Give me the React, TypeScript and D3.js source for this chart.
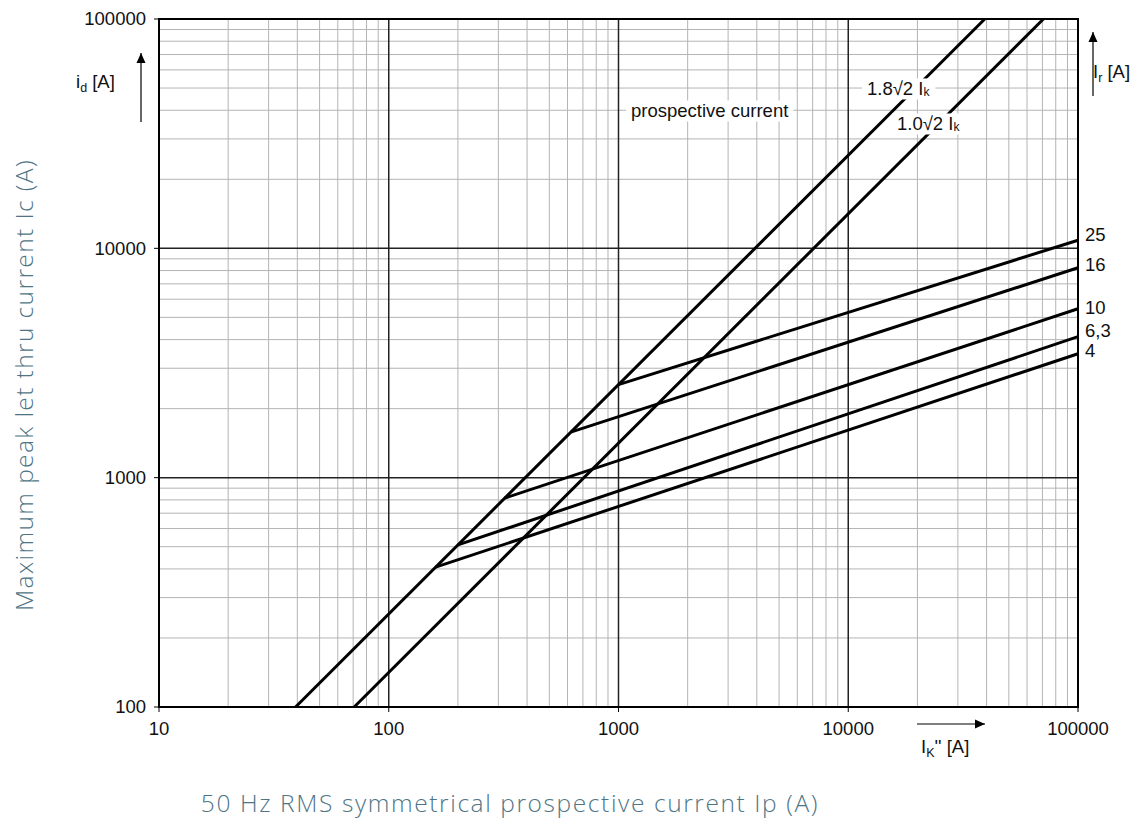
import React, { useEffect, useRef } from 'react';
import * as d3 from 'd3';

// axis ranges (log scales)
const X_DOMAIN: [number, number] = [10, 100000];
const Y_DOMAIN: [number, number] = [100, 100000];
const X_TICKS = [10, 100, 1000, 10000, 100000];
const Y_TICKS = [100, 1000, 10000, 100000];

// prospective current lines
const PEAK_18 = [[39.3, 100], [39280, 100000]];
const PEAK_10 = [[70.7, 100], [70710, 100000]];

// limiter let-through lines per rated current Ir
const IR_LABELS = ['25', '16', '10', '6,3', '4'];
const IR_START = [[1000, 2546], [620, 1580], [320, 815], [200, 509], [160, 407]];
const IR_END = [[100000, 10850], [100000, 8230], [100000, 5450], [100000, 4120], [100000, 3470]];

const TITLE_COLOR = '#4f7585';
const FONT = '"Liberation Sans", Arial, sans-serif';
const FS = 18.5;

const App: React.FC = () => {
  const svgRef = useRef<SVGSVGElement>(null);

  useEffect(() => {
    document.body.style.margin = '0';
    if (!svgRef.current) return;
    const width = 1138;
    const height = 821;
    const left = 159, right = 1078, top = 19, bottom = 707;

    const svg = d3.select(svgRef.current);
    svg.selectAll('*').remove();
    svg.attr('width', width).attr('height', height);

    const x = d3.scaleLog().domain(X_DOMAIN).range([left, right]);
    const y = d3.scaleLog().domain(Y_DOMAIN).range([bottom, top]);

    const minorX: number[] = [];
    for (let d = 10; d < X_DOMAIN[1]; d *= 10) for (let k = 2; k <= 9; k++) minorX.push(d * k);
    const minorY: number[] = [];
    for (let d = 100; d < Y_DOMAIN[1]; d *= 10) for (let k = 2; k <= 9; k++) minorY.push(d * k);

    const grid = svg.append('g');
    grid.selectAll('line.mx').data(minorX).join('line')
      .attr('x1', (d) => x(d)).attr('x2', (d) => x(d))
      .attr('y1', top).attr('y2', bottom)
      .attr('stroke', '#b4b4b4').attr('stroke-width', 1);
    grid.selectAll('line.my').data(minorY).join('line')
      .attr('y1', (d) => y(d)).attr('y2', (d) => y(d))
      .attr('x1', left).attr('x2', right)
      .attr('stroke', '#b4b4b4').attr('stroke-width', 1);
    grid.selectAll('line.Mx').data(X_TICKS.slice(1, -1)).join('line')
      .attr('x1', (d) => x(d)).attr('x2', (d) => x(d))
      .attr('y1', top).attr('y2', bottom)
      .attr('stroke', '#222').attr('stroke-width', 1.5);
    grid.selectAll('line.My').data(Y_TICKS.slice(1, -1)).join('line')
      .attr('y1', (d) => y(d)).attr('y2', (d) => y(d))
      .attr('x1', left).attr('x2', right)
      .attr('stroke', '#222').attr('stroke-width', 1.5);

    // frame
    svg.append('rect')
      .attr('x', left).attr('y', top)
      .attr('width', right - left).attr('height', bottom - top)
      .attr('fill', 'none').attr('stroke', '#000').attr('stroke-width', 2);

    // ticks + labels
    const ax = svg.append('g').attr('font-family', FONT).attr('font-size', FS).attr('fill', '#111');
    Y_TICKS.forEach((t) => {
      ax.append('line').attr('x1', left - 5).attr('x2', left).attr('y1', y(t)).attr('y2', y(t))
        .attr('stroke', '#000').attr('stroke-width', 1);
      ax.append('text').attr('x', left - 13).attr('y', y(t)).attr('dy', '0.35em')
        .attr('text-anchor', 'end').text(String(t));
    });
    X_TICKS.forEach((t) => {
      ax.append('line').attr('x1', x(t)).attr('x2', x(t)).attr('y1', bottom).attr('y2', bottom + 5)
        .attr('stroke', '#000').attr('stroke-width', 1);
      ax.append('text').attr('x', x(t)).attr('y', bottom + 22)
        .attr('dy', '0.35em').attr('text-anchor', 'middle').text(String(t));
    });

    const line = d3.line<number[]>().x((d) => x(d[0])).y((d) => y(d[1]));
    const curves = svg.append('g').attr('fill', 'none').attr('stroke', '#000')
      .attr('stroke-width', 3).attr('stroke-linecap', 'butt');

    // labels with white boxes behind them (they cut the grid)
    const labels = svg.append('g').attr('font-family', FONT).attr('font-size', FS).attr('fill', '#111');
    const boxed = (px: number, py: number, parts: [string, boolean][]) => {
      const gg = labels.append('g');
      const txt = gg.append('text').attr('x', px).attr('y', py).attr('dy', '0.35em');
      parts.forEach(([s, sub]) => {
        const ts = txt.append('tspan').text(s);
        if (sub) ts.attr('font-size', 12).attr('dy', 1);
      });
      const bb = (txt.node() as SVGTextElement).getBBox();
      gg.insert('rect', 'text').attr('x', bb.x - 5).attr('y', bb.y)
        .attr('width', bb.width + 10).attr('height', bb.height).attr('fill', '#fff');
    };
    boxed(631, 111, [['prospective current', false]]);
    boxed(867, 89, [['1.8√2 I', false], ['k', true]]);
    boxed(897, 124, [['1.0√2 I', false], ['k', true]]);

    curves.append('path').attr('d', line(PEAK_18));
    curves.append('path').attr('d', line(PEAK_10));
    IR_LABELS.forEach((lab, i) => {
      curves.append('path').attr('d', line([IR_START[i], IR_END[i]]));
    });

    const labelDy = [-6, -3, -1, -6, -3];
    IR_LABELS.forEach((lab, i) => {
      labels.append('text').attr('x', right + 7).attr('y', y(IR_END[i][1]) + labelDy[i])
        .attr('dy', '0.35em').attr('font-size', 18.5).text(lab);
    });

    // unit annotations with arrows
    const ann = svg.append('g').attr('font-family', FONT).attr('font-size', FS).attr('fill', '#111');
    const arrow = (x1: number, y1: number, x2: number, y2: number) => {
      ann.append('line').attr('x1', x1).attr('y1', y1).attr('x2', x2).attr('y2', y2)
        .attr('stroke', '#000').attr('stroke-width', 1.2);
      const ang = Math.atan2(y2 - y1, x2 - x1);
      const L = 10, W = 4.5;
      const bx = x2 - L * Math.cos(ang), by = y2 - L * Math.sin(ang);
      const pts = [
        [x2, y2],
        [bx + W * Math.sin(ang), by - W * Math.cos(ang)],
        [bx - W * Math.sin(ang), by + W * Math.cos(ang)],
      ];
      ann.append('polygon').attr('points', pts.map((p) => p.join(',')).join(' ')).attr('fill', '#000');
    };
    const sub = (px: number, py: number, main: string, s: string, rest: string) => {
      const t = ann.append('text').attr('x', px).attr('y', py).attr('dy', '0.35em');
      t.append('tspan').text(main);
      t.append('tspan').attr('font-size', 12.5).attr('dy', 4).text(s);
      t.append('tspan').attr('dy', -4).text(rest);
    };
    sub(76, 82, 'i', 'd', ' [A]');
    arrow(141, 122, 141, 53);
    sub(1093, 72, 'I', 'r', ' [A]');
    arrow(1093, 96, 1093, 32);
    sub(921, 747, 'I', 'K', "'' [A]");
    arrow(917, 724, 985, 724);

    // axis titles
    svg.append('text')
      .attr('x', 510).attr('y', 812)
      .attr('text-anchor', 'middle')
      .attr('font-family', '"Open Sans", sans-serif')
      .attr('font-weight', 300)
      .attr('font-size', 24.5)
      .attr('letter-spacing', 1.6)
      .attr('fill', TITLE_COLOR)
      .text('50 Hz RMS symmetrical prospective current Ip (A)');
    svg.append('text')
      .attr('transform', `translate(33, 385) rotate(-90)`)
      .attr('text-anchor', 'middle')
      .attr('font-family', '"Open Sans", sans-serif')
      .attr('font-weight', 300)
      .attr('font-size', 24.5)
      .attr('letter-spacing', 1.4)
      .attr('fill', TITLE_COLOR)
      .text('Maximum peak let thru current Ic (A)');
  }, []);

  return <svg ref={svgRef} style={{ display: 'block', background: '#fff' }} />;
};

export default App;
